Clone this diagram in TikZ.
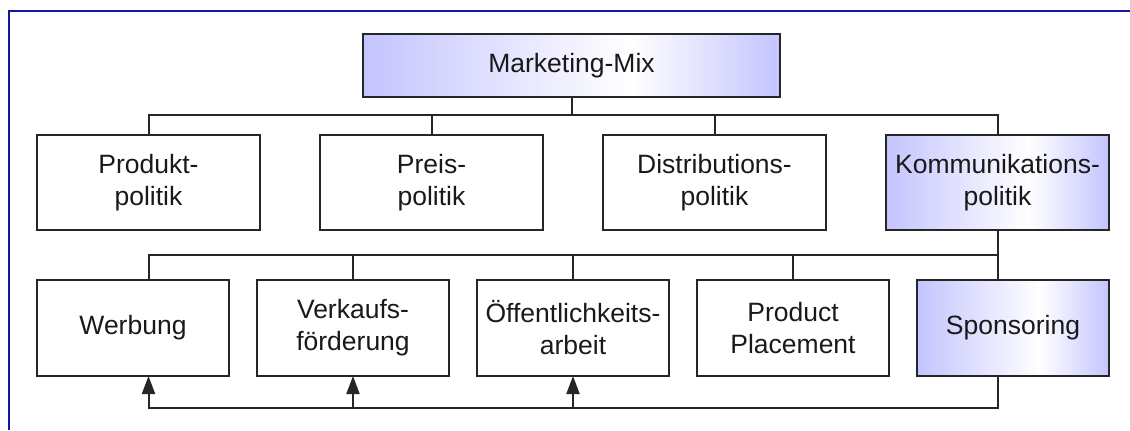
\documentclass[tikz,border=0pt]{standalone}
\usepackage{fontspec}
\setmainfont{Liberation Sans}
\usetikzlibrary{positioning, arrows.meta}
\definecolor{lila}{RGB}{196,196,255}
\definecolor{rahmenblau}{RGB}{20,20,165}
\pgfdeclarehorizontalshading{lilaverlauf}{100bp}{color(0bp)=(lila); color(25bp)=(lila); color(57bp)=(white); color(75bp)=(lila); color(100bp)=(lila)}
\tikzset{
>={Triangle[length=9pt, width=6.5pt]}, % filled arrow heads
font=\fontsize{13.25}{16}\selectfont, % Arial sized text
kasten/.style={draw=black!85, line width=1pt, align=center, outer sep=0pt, text=black!90}, % every box
oben/.style={kasten, minimum width=208.5pt, minimum height=31.5pt}, % top box
mitte/.style={kasten, minimum width=111.5pt, minimum height=47.5pt}, % second row
unten/.style={kasten, minimum width=96pt, minimum height=48pt}, % third row
lilabox/.style={shade, shading=lilaverlauf}, % highlighted boxes
linie/.style={draw=black!85, line width=1pt}, % connectors
}

\begin{document}
\begin{tikzpicture}
    \useasboundingbox (0,0) rectangle (565pt,-215pt);
    \draw[rahmenblau, line width=1.25pt] (4.5pt,-215pt) -- (4.5pt,-5.5pt) -- (565pt,-5.5pt);

    \node[oben, lilabox] (mix) at (285.75pt,-32.75pt) {Marketing-Mix};

    \node[mitte] (produkt) at (74.25pt,-91.25pt) {Produkt-\\politik};
    \node[mitte, right=30pt of produkt] (preis) {Preis-\\politik};
    \node[mitte, right=30pt of preis] (distri) {Distributions-\\politik};
    \node[mitte, lilabox, right=30pt of distri] (komm) {Kommunikations-\\politik};

    \node[unten] (werbung) at (66.5pt,-164pt) {Werbung};
    \node[unten, right=14pt of werbung] (vkf) {Verkaufs-\\förderung};
    \node[unten, right=14pt of vkf] (oea) {Öffentlichkeits-\\arbeit};
    \node[unten, right=14pt of oea] (pp) {Product\\Placement};
    \node[unten, lilabox, right=14pt of pp] (sponsoring) {Sponsoring};

    \coordinate (bus1) at (0,-57.5pt);
    \coordinate (bus2) at (0,-127.5pt);
    \coordinate (bus3) at (0,-204pt);

    % Marketing-Mix to the four policies
    \draw[linie] (mix.south) -- (mix.south |- bus1);
    \draw[linie] (produkt.north) |- (komm.north |- bus1) -- (komm.north);
    \draw[linie] (preis.north) -- (preis.north |- bus1);
    \draw[linie] (distri.north) -- (distri.north |- bus1);

    % Kommunikationspolitik to its instruments
    \draw[linie] (komm.south) -- (komm.south |- sponsoring.north);
    \draw[linie] (produkt.south |- werbung.north) |- (komm.south |- bus2);
    \draw[linie] (vkf.north) -- (vkf.north |- bus2);
    \draw[linie] (oea.north) -- (oea.north |- bus2);
    \draw[linie] (pp.north) -- (pp.north |- bus2);

    % Sponsoring back to the others
    \draw[linie, ->] (komm.south |- sponsoring.south) |- (produkt.south |- bus3) -- (produkt.south |- werbung.south);
    \draw[linie, ->] (vkf.south |- bus3) -- (vkf.south);
    \draw[linie, ->] (oea.south |- bus3) -- (oea.south);
\end{tikzpicture}
\end{document}
